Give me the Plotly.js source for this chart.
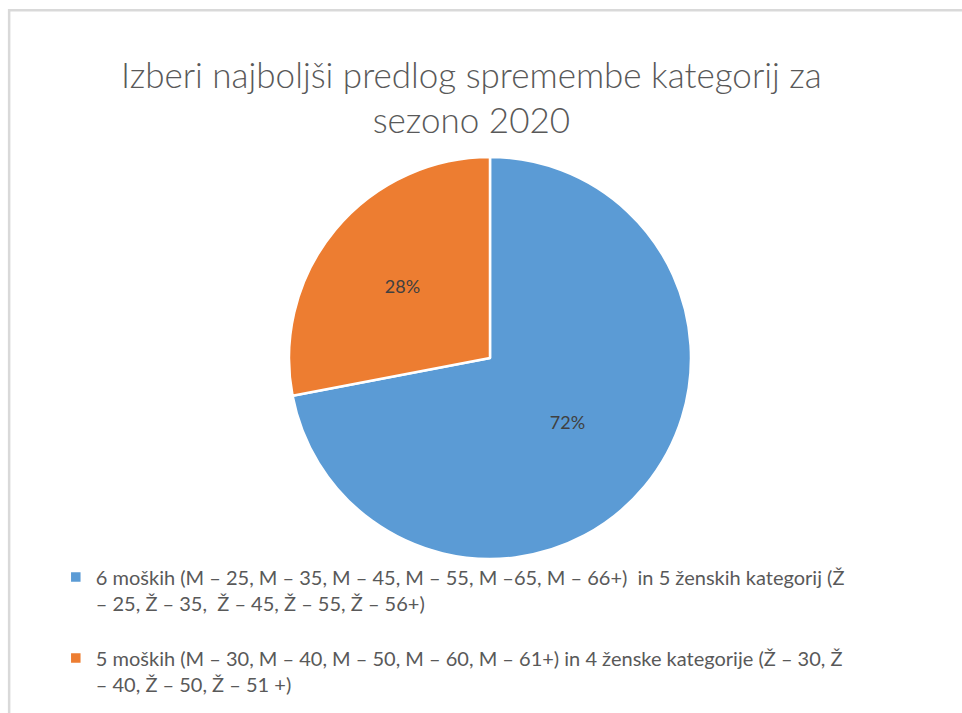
<!DOCTYPE html>
<html>
<head>
<meta charset="utf-8">
<script src="https://cdn.plot.ly/plotly-3.0.1.min.js"></script>
<style>html,body{margin:0;padding:0;background:#fff;}#chart{width:962px;height:713px;}</style>
</head>
<body>
<div id="chart"></div>
<script>
const categories = [
  "6 moških (M – 25, M – 35, M – 45, M – 55, M –65, M – 66+)  in 5 ženskih kategorij (Ž<br>– 25, Ž – 35,  Ž – 45, Ž – 55, Ž – 56+)<br> ",
  "5 moških (M – 30, M – 40, M – 50, M – 60, M – 61+) in 4 ženske kategorije (Ž – 30, Ž<br>– 40, Ž – 50, Ž – 51 +)"
];
const values = [72, 28];
const colors = ["#5b9bd5", "#ed7d31"];
const titleText = "Izberi najboljši predlog spremembe kategorij za<br>sezono 2020";

const trace = {
  type: "pie",
  labels: categories,
  values: values,
  sort: false,
  direction: "clockwise",
  rotation: 0,
  marker: {colors: colors, line: {color: "#ffffff", width: 2.5}},
  textinfo: "percent",
  texttemplate: "%{percent:.0%}",
  textposition: "inside",
  insidetextorientation: "horizontal",
  textfont: {family: "Lato, 'Open Sans', sans-serif", size: 18, color: "#404040"},
  hoverinfo: "label+percent",
  domain: {x: [0.3004, 0.7183], y: [0.216, 0.7798]}
};

const layout = {
  width: 962, height: 713,
  margin: {l: 0, r: 0, t: 0, b: 0},
  paper_bgcolor: "#ffffff",
  showlegend: true,
  title: {
    text: titleText,
    font: {family: "Lato, 'Open Sans', sans-serif", size: 35, color: "#595959", weight: 300},
    x: 0.49, xanchor: "center",
    y: 0.877, yanchor: "top"
  },
  legend: {
    orientation: "v",
    x: 0.058, xanchor: "left",
    y: 0.218, yanchor: "top",
    valign: "top",
    font: {family: "Lato, 'Open Sans', sans-serif", size: 20, color: "#595959"},
    itemclick: false, itemdoubleclick: false
  },
  shapes: [{
    type: "rect", xref: "paper", yref: "paper",
    x0: 0.0095, x1: 1.01, y0: -0.01, y1: 0.9855,
    line: {color: "#d9d9d9", width: 2.5}, fillcolor: "rgba(0,0,0,0)", layer: "below"
  }]
};

Plotly.newPlot("chart", [trace], layout, {displayModeBar: false, staticPlot: true});
</script>
</body>
</html>
